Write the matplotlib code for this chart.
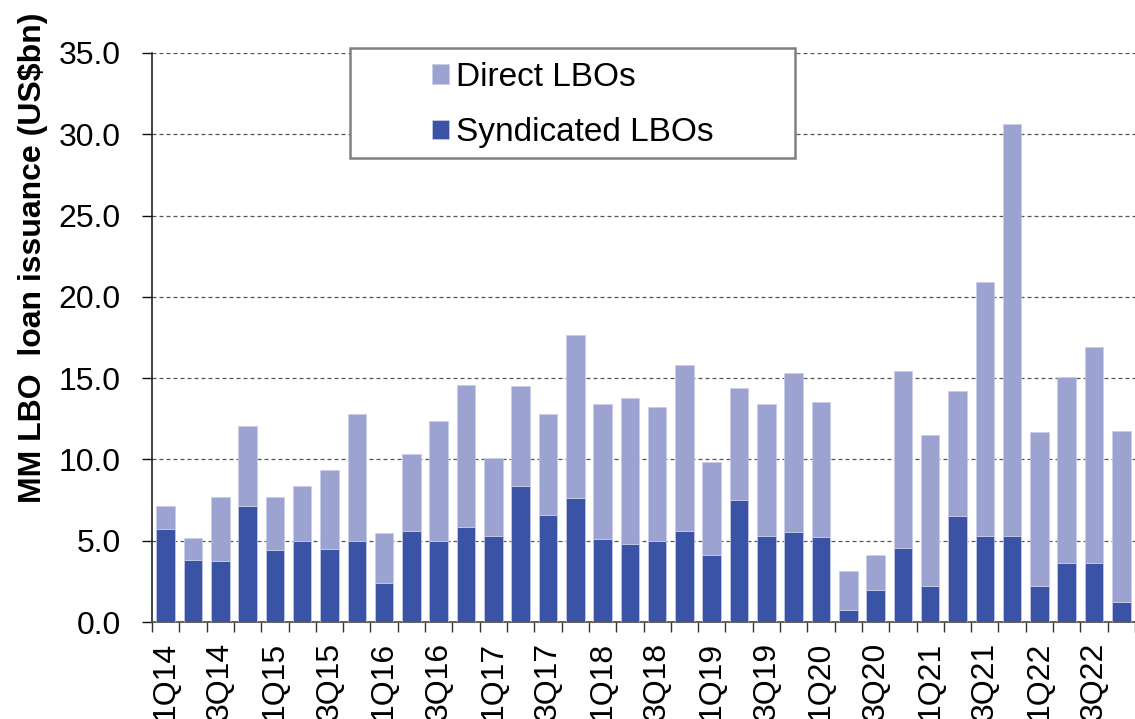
import matplotlib
matplotlib.use("Agg")
import matplotlib.pyplot as plt
from matplotlib.patches import Rectangle
from matplotlib.ticker import FixedLocator, NullFormatter
import numpy as np

plt.rcParams['font.family'] = ['Liberation Sans', 'DejaVu Sans']

quarters = ["1Q14", "2Q14", "3Q14", "4Q14", "1Q15", "2Q15", "3Q15", "4Q15",
            "1Q16", "2Q16", "3Q16", "4Q16", "1Q17", "2Q17", "3Q17", "4Q17",
            "1Q18", "2Q18", "3Q18", "4Q18", "1Q19", "2Q19", "3Q19", "4Q19",
            "1Q20", "2Q20", "3Q20", "4Q20", "1Q21", "2Q21", "3Q21", "4Q21",
            "1Q22", "2Q22", "3Q22", "4Q22"]

syndicated = [5.70, 3.83, 3.77, 7.11, 4.45, 4.96, 4.47, 4.96,
              2.40, 5.62, 4.96, 5.85, 5.32, 8.38, 6.57, 7.60,
              5.11, 4.81, 5.00, 5.60, 4.13, 7.49, 5.26, 5.55,
              5.23, 0.72, 1.94, 4.55, 2.21, 6.53, 5.30, 5.32,
              2.21, 3.64, 3.64, 1.21]

total = [7.13, 5.15, 7.68, 12.04, 7.70, 8.34, 9.38, 12.81,
         5.47, 10.32, 12.34, 14.57, 10.06, 14.53, 12.77, 17.66,
         13.43, 13.79, 13.23, 15.83, 9.85, 14.40, 13.40, 15.30,
         13.51, 3.15, 4.15, 15.45, 11.51, 14.23, 20.94, 30.66,
         11.68, 15.06, 16.91, 11.77]

direct = [t - s for t, s in zip(total, syndicated)]

y_ticks = [0, 5, 10, 15, 20, 25, 30, 35]

c_synd = "#3A53A4"
c_direct = "#9DA3D0"

fig = plt.figure(figsize=(11.35, 7.19), dpi=100)
ax = fig.add_axes([152 / 1135, 97 / 719, 983 / 1135, 569 / 719])

x = np.arange(len(quarters))
w = 0.68
ax.bar(x, syndicated, width=w, color=c_synd, edgecolor="#c9cde9", linewidth=0.5,
       label="Syndicated LBOs", zorder=3)
ax.bar(x, direct, bottom=syndicated, width=w, color=c_direct, edgecolor="#c9cde9",
       linewidth=0.5, label="Direct LBOs", zorder=3)

ax.set_xlim(-0.5, len(quarters) - 0.5)
ax.set_ylim(0, 35)
ax.set_yticks(y_ticks)
ax.set_yticklabels([f"{v:.1f}" for v in y_ticks])
ax.yaxis.grid(True, linestyle=(0, (3.2, 2.4)), color="#555555", linewidth=0.9, zorder=0)
ax.set_axisbelow(True)

# x labels every other quarter at bar centres, ticks at bar boundaries
lab_pos = x[::2]
ax.set_xticks(lab_pos)
ax.set_xticklabels([quarters[i] for i in lab_pos], rotation=90, va="top", ha="center")
ax.xaxis.set_minor_locator(FixedLocator(np.arange(-0.5, len(quarters), 1.0)))
ax.xaxis.set_minor_formatter(NullFormatter())
ax.tick_params(axis="x", which="major", length=0, pad=14, labelsize=23)
ax.tick_params(axis="x", which="minor", length=7.5, width=1.0, color="#333333")
ax.tick_params(axis="y", which="major", length=7.5, width=1.0, pad=15, labelsize=23,
               color="#111111")

for s in ["top", "right"]:
    ax.spines[s].set_visible(False)
ax.spines["left"].set_color("#111111")
ax.spines["left"].set_linewidth(1.1)
ax.spines["bottom"].set_color("#555555")
ax.spines["bottom"].set_linewidth(1.3)

# legend with a manual frame
x0 = (350 - 152) / 983
x1 = (795 - 152) / 983
y0 = (622 - 158) / 569
y1 = (622 - 48) / 569
frame = Rectangle((x0, y0), x1 - x0, y1 - y0, transform=ax.transAxes,
                  facecolor="white", edgecolor="#808080", linewidth=1.8,
                  clip_on=False, zorder=5)
ax.add_patch(frame)
handles, labels = ax.get_legend_handles_labels()
leg = ax.legend(handles[::-1], labels[::-1], loc="center",
                bbox_to_anchor=((x0 + x1) / 2, (y0 + y1) / 2 - 2 / 569),
                frameon=False, fontsize=24, handlelength=0.52, handleheight=0.52,
                handletextpad=0.2, labelspacing=0.74, borderpad=0)
leg.set_zorder(6)

fig.text(33 / 1135, 1 - 258 / 719, "MM LBO  loan issuance (US$bn)", rotation=90,
         ha="center", va="center", fontsize=23, fontweight="bold")

fig.savefig("out.png", dpi=100)
